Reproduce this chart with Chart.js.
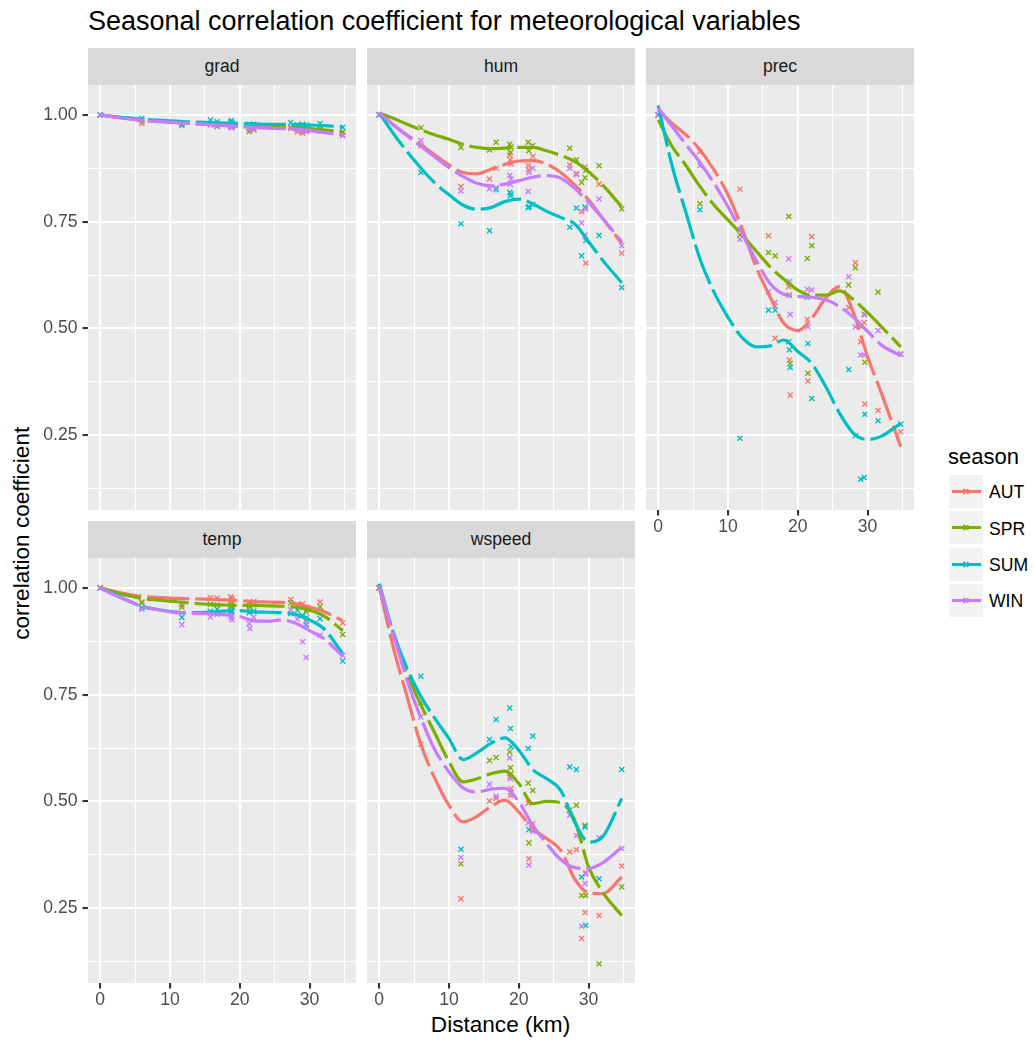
<!DOCTYPE html>
<html>
<head>
<meta charset="utf-8">
<script src="https://cdn.jsdelivr.net/npm/chart.js@4.4.0/dist/chart.umd.min.js"></script>
<style>
  body { margin: 0; background: #fff; width: 1034px; height: 1043px; position: relative; overflow: hidden;
         font-family: "Liberation Sans", Arial, sans-serif; }
  .abs { position: absolute; white-space: nowrap; line-height: 1; }
  .strip { position: absolute; background: #d9d9d9; color: #1a1a1a; font-size: 17.6px; text-align: center; }
  canvas { position: absolute; }
  .key { position: absolute; width: 34px; height: 33px; background: #f2f2f2; }
  .key .ln { position: absolute; left: 3px; top: 15px; width: 29px; height: 3px; }
  .key .xa, .key .xb { position: absolute; left: 16px; top: 13px; width: 1.5px; height: 7px; }
  .key .xa { transform: rotate(45deg); }
  .key .xb { transform: rotate(-45deg); }
</style>
</head>
<body>
<div class="abs" style="left:88px;top:8px;font-size:27px;color:#000">Seasonal correlation coefficient for meteorological variables</div>
<div class="abs" style="left:88px;top:1014px;width:825px;text-align:center;font-size:22.6px;color:#000">Distance (km)</div>
<div class="abs" style="left:-445px;top:522px;width:935px;text-align:center;font-size:22.6px;color:#000;transform:rotate(-90deg)">correlation coefficient</div>
<div id="legend"></div>

<script>
// station-pair distances (km) shared by all panels
const dist = [0, 5.97, 11.7, 15.8, 16.75, 18.7, 18.8, 18.9, 21.35, 21.45, 22.0, 27.3, 28.25, 29.0, 29.5, 29.6, 31.5, 34.75];
// x positions of the smoothed curves
const fitX = [0, 2, 4, 6, 8, 10, 12, 14, 16, 18, 20, 22, 24, 26, 28, 30, 32, 34.75];

const seasons = ['AUT', 'SPR', 'SUM', 'WIN'];
const seasonColors = ['#F8766D', '#7CAE00', '#00BFC4', '#C77CFF'];
const xTicks = [0, 10, 20, 30];
const yTicks = [0.25, 0.50, 0.75, 1.00];

// grad
const gradAUT = [1.000, 0.980, 0.979, 0.977, 0.975, 0.974, 0.973, 0.972, 0.968, 0.966, 0.965, 0.968, 0.960, 0.957, 0.962, 0.961, 0.967, 0.953];
const gradSPR = [1.000, 0.986, 0.980, 0.979, 0.973, 0.976, 0.975, 0.974, 0.961, 0.970, 0.968, 0.972, 0.966, 0.962, 0.965, 0.968, 0.967, 0.960];
const gradSUM = [1.000, 0.992, 0.975, 0.988, 0.984, 0.983, 0.987, 0.981, 0.978, 0.977, 0.978, 0.982, 0.977, 0.978, 0.975, 0.976, 0.980, 0.971];
const gradWIN = [1.000, 0.987, 0.980, 0.977, 0.974, 0.972, 0.971, 0.970, 0.968, 0.967, 0.966, 0.970, 0.965, 0.962, 0.963, 0.964, 0.961, 0.951];
const gradAUTfit = [1.000, 0.995, 0.991, 0.987, 0.985, 0.983, 0.981, 0.979, 0.977, 0.975, 0.973, 0.971, 0.970, 0.969, 0.967, 0.964, 0.960, 0.953];
const gradSPRfit = [1.000, 0.996, 0.992, 0.988, 0.986, 0.984, 0.982, 0.980, 0.978, 0.976, 0.974, 0.973, 0.972, 0.971, 0.970, 0.968, 0.965, 0.960];
const gradSUMfit = [1.000, 0.996, 0.993, 0.990, 0.988, 0.986, 0.984, 0.983, 0.982, 0.981, 0.980, 0.979, 0.978, 0.978, 0.977, 0.976, 0.975, 0.972];
const gradWINfit = [1.000, 0.995, 0.991, 0.988, 0.985, 0.983, 0.981, 0.979, 0.977, 0.975, 0.973, 0.971, 0.969, 0.968, 0.966, 0.963, 0.959, 0.953];

// hum
const humAUT = [1.000, 0.927, 0.832, 0.850, 0.875, 0.906, 0.895, 0.885, 0.881, 0.871, 0.903, 0.883, 0.863, 0.774, 0.878, 0.653, 0.838, 0.676];
const humSPR = [1.000, 0.970, 0.924, 0.918, 0.936, 0.931, 0.912, 0.925, 0.936, 0.916, 0.928, 0.922, 0.895, 0.842, 0.853, 0.870, 0.881, 0.780];
const humSUM = [1.000, 0.865, 0.745, 0.729, 0.825, 0.819, 0.811, 0.815, 0.783, 0.785, 0.790, 0.737, 0.782, 0.670, 0.784, 0.706, 0.718, 0.596];
const humWIN = [1.000, 0.940, 0.822, 0.827, 0.830, 0.858, 0.838, 0.850, 0.821, 0.865, 0.875, 0.875, 0.860, 0.747, 0.719, 0.780, 0.803, 0.694];
const humAUTfit = [1.005, 0.977, 0.953, 0.930, 0.906, 0.883, 0.865, 0.862, 0.873, 0.884, 0.892, 0.893, 0.885, 0.865, 0.836, 0.801, 0.758, 0.699];
const humSPRfit = [1.004, 0.992, 0.978, 0.965, 0.953, 0.943, 0.931, 0.924, 0.921, 0.922, 0.924, 0.924, 0.916, 0.905, 0.891, 0.867, 0.836, 0.785];
const humSUMfit = [1.005, 0.957, 0.914, 0.875, 0.840, 0.813, 0.789, 0.779, 0.783, 0.797, 0.803, 0.792, 0.774, 0.760, 0.745, 0.703, 0.660, 0.607];
const humWINfit = [1.005, 0.977, 0.951, 0.926, 0.901, 0.877, 0.856, 0.840, 0.834, 0.838, 0.846, 0.854, 0.858, 0.852, 0.828, 0.795, 0.758, 0.703];

// prec
const precAUT = [1.000, 0.914, 0.826, 0.717, 0.477, 0.598, 0.426, 0.344, 0.521, 0.377, 0.715, 0.549, 0.654, 0.469, 0.514, 0.323, 0.308, 0.258];
const precSPR = [1.000, 0.792, 0.719, 0.678, 0.670, 0.762, 0.578, 0.418, 0.664, 0.395, 0.694, 0.602, 0.642, 0.505, 0.533, 0.421, 0.585, 0.440];
const precSUM = [1.000, 0.778, 0.243, 0.543, 0.543, 0.469, 0.450, 0.409, 0.573, 0.465, 0.336, 0.404, 0.249, 0.147, 0.151, 0.299, 0.284, 0.276];
const precWIN = [1.000, 0.881, 0.709, 0.586, 0.561, 0.663, 0.610, 0.533, 0.592, 0.504, 0.590, 0.621, 0.504, 0.438, 0.438, 0.532, 0.495, 0.440];
const precAUTfit = [1.012, 0.980, 0.953, 0.918, 0.871, 0.813, 0.735, 0.645, 0.575, 0.512, 0.495, 0.524, 0.571, 0.598, 0.536, 0.434, 0.348, 0.223];
const precSPRfit = [0.988, 0.926, 0.881, 0.832, 0.789, 0.754, 0.719, 0.682, 0.645, 0.615, 0.590, 0.578, 0.578, 0.588, 0.567, 0.537, 0.504, 0.457];
const precSUMfit = [1.022, 0.880, 0.770, 0.662, 0.585, 0.526, 0.479, 0.457, 0.459, 0.473, 0.446, 0.418, 0.364, 0.301, 0.254, 0.240, 0.248, 0.278];
const precWINfit = [1.016, 0.973, 0.930, 0.888, 0.840, 0.785, 0.723, 0.660, 0.606, 0.580, 0.575, 0.573, 0.567, 0.551, 0.526, 0.493, 0.461, 0.436];

// temp
const tempAUT = [1.000, 0.967, 0.960, 0.977, 0.976, 0.979, 0.975, 0.972, 0.967, 0.965, 0.968, 0.973, 0.961, 0.963, 0.923, 0.955, 0.967, 0.918];
const tempSPR = [1.000, 0.965, 0.955, 0.962, 0.960, 0.959, 0.963, 0.957, 0.958, 0.955, 0.960, 0.965, 0.960, 0.955, 0.945, 0.950, 0.956, 0.891];
const tempSUM = [1.000, 0.954, 0.931, 0.945, 0.950, 0.948, 0.946, 0.944, 0.942, 0.945, 0.946, 0.940, 0.948, 0.935, 0.913, 0.930, 0.928, 0.829];
const tempWIN = [1.000, 0.950, 0.914, 0.932, 0.938, 0.935, 0.930, 0.925, 0.916, 0.905, 0.932, 0.949, 0.927, 0.874, 0.837, 0.915, 0.889, 0.842];
const tempAUTfit = [1.000, 0.992, 0.985, 0.980, 0.978, 0.976, 0.975, 0.974, 0.973, 0.972, 0.970, 0.968, 0.967, 0.966, 0.963, 0.955, 0.945, 0.923];
const tempSPRfit = [1.000, 0.990, 0.982, 0.975, 0.972, 0.969, 0.966, 0.963, 0.961, 0.960, 0.959, 0.959, 0.958, 0.957, 0.955, 0.948, 0.935, 0.900];
const tempSUMfit = [1.000, 0.985, 0.970, 0.956, 0.950, 0.945, 0.942, 0.942, 0.944, 0.946, 0.947, 0.944, 0.943, 0.942, 0.938, 0.925, 0.905, 0.846];
const tempWINfit = [1.000, 0.984, 0.970, 0.957, 0.950, 0.944, 0.941, 0.940, 0.939, 0.937, 0.933, 0.923, 0.922, 0.925, 0.917, 0.900, 0.882, 0.840];

// wspeed
const wspeedAUT = [1.000, 0.634, 0.272, 0.501, 0.507, 0.557, 0.514, 0.530, 0.496, 0.366, 0.448, 0.382, 0.387, 0.179, 0.240, 0.333, 0.233, 0.349];
const wspeedSPR = [1.000, 0.731, 0.354, 0.596, 0.603, 0.616, 0.579, 0.565, 0.543, 0.403, 0.526, 0.480, 0.491, 0.280, 0.444, 0.280, 0.120, 0.300];
const wspeedSUM = [1.000, 0.793, 0.388, 0.645, 0.692, 0.719, 0.671, 0.628, 0.624, 0.434, 0.653, 0.581, 0.575, 0.323, 0.440, 0.210, 0.319, 0.575];
const wspeedWIN = [1.000, 0.698, 0.369, 0.540, 0.512, 0.602, 0.553, 0.520, 0.450, 0.351, 0.430, 0.468, 0.420, 0.208, 0.308, 0.330, 0.415, 0.390];
const wspeedAUTfit = [1.002, 0.862, 0.745, 0.632, 0.553, 0.491, 0.452, 0.465, 0.488, 0.503, 0.475, 0.436, 0.413, 0.386, 0.319, 0.286, 0.284, 0.323];
const wspeedSPRfit = [1.006, 0.893, 0.799, 0.725, 0.659, 0.593, 0.546, 0.553, 0.565, 0.571, 0.542, 0.495, 0.500, 0.497, 0.456, 0.347, 0.288, 0.233];
const wspeedSUMfit = [1.010, 0.897, 0.811, 0.745, 0.694, 0.647, 0.598, 0.614, 0.636, 0.649, 0.620, 0.575, 0.553, 0.526, 0.452, 0.405, 0.417, 0.507];
const wspeedWINfit = [1.006, 0.893, 0.784, 0.694, 0.620, 0.569, 0.532, 0.522, 0.529, 0.531, 0.499, 0.444, 0.401, 0.364, 0.345, 0.343, 0.356, 0.393];

const panels = [
  { name: 'grad',   col: 0, row: 0, xLab: false, yLab: true,
    pts: [gradAUT, gradSPR, gradSUM, gradWIN], fit: [gradAUTfit, gradSPRfit, gradSUMfit, gradWINfit] },
  { name: 'hum',    col: 1, row: 0, xLab: false, yLab: false,
    pts: [humAUT, humSPR, humSUM, humWIN], fit: [humAUTfit, humSPRfit, humSUMfit, humWINfit] },
  { name: 'prec',   col: 2, row: 0, xLab: true,  yLab: false,
    pts: [precAUT, precSPR, precSUM, precWIN], fit: [precAUTfit, precSPRfit, precSUMfit, precWINfit] },
  { name: 'temp',   col: 0, row: 1, xLab: true,  yLab: true,
    pts: [tempAUT, tempSPR, tempSUM, tempWIN], fit: [tempAUTfit, tempSPRfit, tempSUMfit, tempWINfit] },
  { name: 'wspeed', col: 1, row: 1, xLab: true,  yLab: false,
    pts: [wspeedAUT, wspeedSPR, wspeedSUM, wspeedWIN], fit: [wspeedAUTfit, wspeedSPRfit, wspeedSUMfit, wspeedWINfit] }
];

const colLeft = [88, 367, 646];
const rowTop = [85, 558];
const panelW = 268, panelH = 425, stripH = 37;
const axisW = 60, axisH = 30;

Chart.defaults.font.family = '"Liberation Sans", Arial, sans-serif';
Chart.defaults.font.size = 17.6;
Chart.defaults.color = '#4d4d4d';

const near = (v, step) => Math.abs(v / step - Math.round(v / step)) < 1e-6;

// fixed axis boxes, no label overflow padding, so the plot area is exactly panelW x panelH
function fixBox(a, w, h) {
  if (w !== null) a.width = w;
  if (h !== null) a.height = h;
  a.paddingLeft = 0; a.paddingRight = 0; a.paddingTop = 0; a.paddingBottom = 0;
}

const panelBg = {
  id: 'panelBg',
  beforeDraw(chart) {
    const a = chart.chartArea, c = chart.ctx;
    c.save();
    c.fillStyle = '#ebebeb';
    c.fillRect(a.left, a.top, a.right - a.left, a.bottom - a.top);
    c.restore();
  }
};

panels.forEach(p => {
  const left = colLeft[p.col], top = rowTop[p.row];

  const strip = document.createElement('div');
  strip.className = 'strip';
  strip.style.left = left + 'px';
  strip.style.top = (top - stripH) + 'px';
  strip.style.width = panelW + 'px';
  strip.style.height = stripH + 'px';
  strip.style.lineHeight = stripH + 'px';
  strip.textContent = p.name;
  document.body.appendChild(strip);

  const cv = document.createElement('canvas');
  cv.width = panelW + axisW;
  cv.height = panelH + axisH;
  cv.style.left = (left - axisW) + 'px';
  cv.style.top = top + 'px';
  document.body.appendChild(cv);

  const datasets = [];
  seasons.forEach((s, k) => {
    datasets.push({
      type: 'line',
      label: s + ' fit',
      data: fitX.map((x, i) => ({ x: x, y: p.fit[k][i] })),
      borderColor: seasonColors[k],
      borderWidth: 3.2,
      borderDash: [42, 6],
      pointRadius: 0,
      fill: false,
      cubicInterpolationMode: 'monotone',
      order: 4 - k
    });
    datasets.push({
      type: 'scatter',
      label: s,
      data: dist.map((x, i) => ({ x: x, y: p.pts[k][i] })),
      pointStyle: 'crossRot',
      pointRadius: 3.6,
      borderWidth: 1.4,
      borderColor: seasonColors[k],
      backgroundColor: seasonColors[k],
      order: 14 - k
    });
  });

  new Chart(cv, {
    type: 'scatter',
    data: { datasets },
    options: {
      responsive: false,
      animation: false,
      devicePixelRatio: 1,
      layout: { padding: 0, autoPadding: false },
      plugins: { legend: { display: false }, tooltip: { enabled: false } },
      scales: {
        x: {
          type: 'linear', min: -1.75, max: 36.65,
          afterBuildTicks: a => { a.ticks = [0, 5, 10, 15, 20, 25, 30, 35].map(v => ({ value: v })); },
          afterFit: a => fixBox(a, null, axisH),
          border: { display: false },
          grid: {
            color: '#ffffff',
            lineWidth: c => (c.tick && near(c.tick.value, 10)) ? 2.1 : 1.05,
            drawTicks: p.xLab,
            tickLength: 5.5,
            tickWidth: 2.1,
            tickColor: c => (c.tick && xTicks.includes(c.tick.value)) ? '#333333' : 'rgba(0,0,0,0)'
          },
          ticks: {
            display: p.xLab, autoSkip: false, maxRotation: 0, padding: 1,
            callback: v => xTicks.includes(v) ? String(v) : ''
          }
        },
        y: {
          type: 'linear', min: 0.075, max: 1.07,
          afterBuildTicks: a => { a.ticks = [0.125, 0.25, 0.375, 0.5, 0.625, 0.75, 0.875, 1.0].map(v => ({ value: v })); },
          afterFit: a => fixBox(a, axisW, null),
          border: { display: false },
          grid: {
            color: '#ffffff',
            lineWidth: c => (c.tick && near(c.tick.value, 0.25)) ? 2.1 : 1.05,
            drawTicks: p.yLab,
            tickLength: 5.5,
            tickWidth: 2.1,
            tickColor: c => (c.tick && near(c.tick.value, 0.25)) ? '#333333' : 'rgba(0,0,0,0)'
          },
          ticks: {
            display: p.yLab, autoSkip: false, padding: 5,
            callback: v => near(v, 0.25) ? v.toFixed(2) : ''
          }
        }
      }
    },
    plugins: [panelBg]
  });
});

// legend
const legend = document.getElementById('legend');
let html = '<div class="abs" style="left:948px;top:446px;font-size:22px;color:#000">season</div>';
seasons.forEach((s, k) => {
  const t = 475 + k * 36.3;
  const c = seasonColors[k];
  html += '<div class="key" style="left:949px;top:' + t + 'px">' +
          '<div class="ln" style="background:' + c + '"></div>' +
          '<div class="xa" style="background:' + c + '"></div>' +
          '<div class="xb" style="background:' + c + '"></div></div>';
  html += '<div class="abs" style="left:989px;top:' + (t + 9.2) + 'px;font-size:17.6px;color:#000">' + s + '</div>';
});
legend.innerHTML = html;
</script>
</body>
</html>
